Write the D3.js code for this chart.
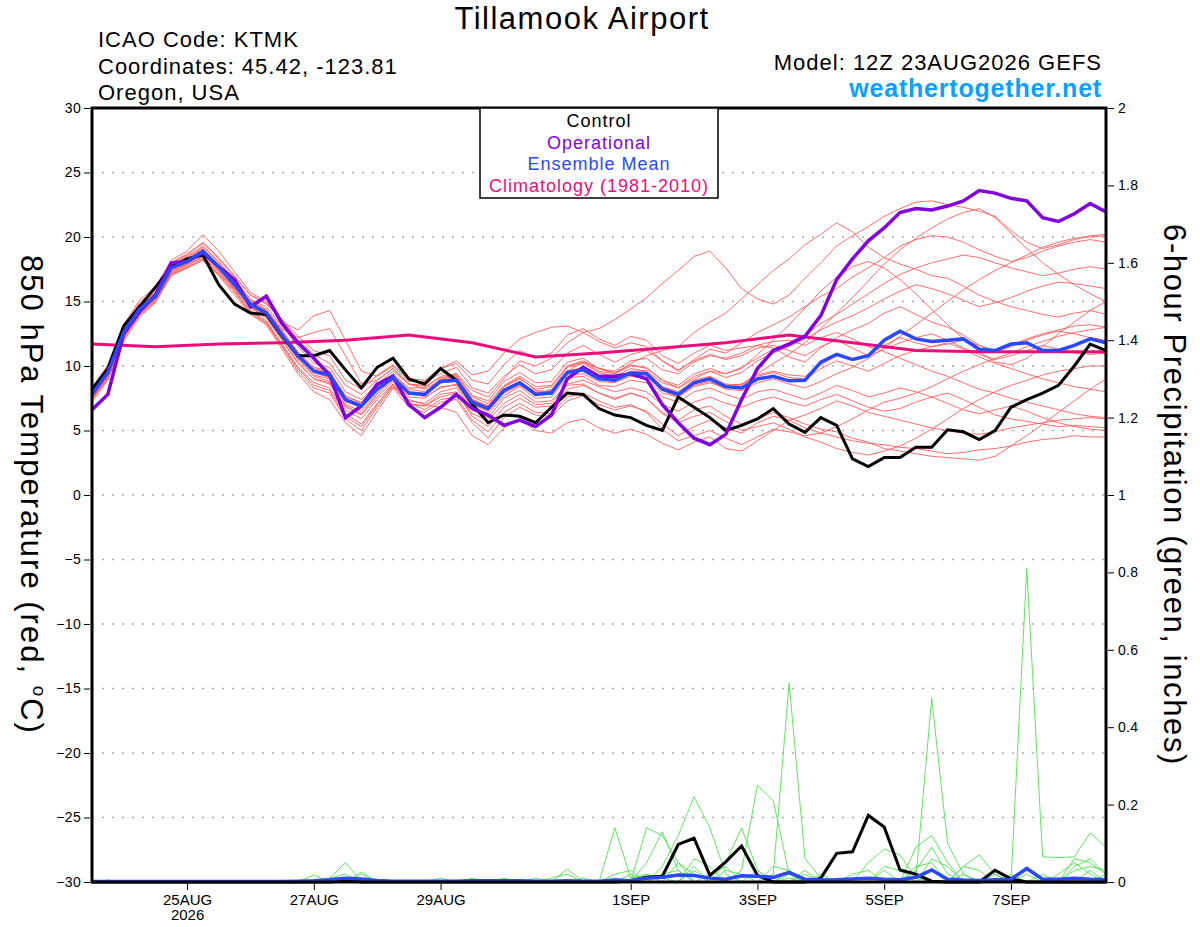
<!DOCTYPE html>
<html>
<head>
<meta charset="utf-8">
<script src="https://d3js.org/d3.v7.min.js"></script>
<style>
body{margin:0;background:#fff;}
text{font-family:"Liberation Sans", Arial, sans-serif;}
</style>
</head>
<body>
<script>
// x axis labels
var tickDates = ["2026-08-25","2026-08-27","2026-08-29","2026-09-01","2026-09-03","2026-09-05","2026-09-07"];
var tickLabels = ["25AUG","27AUG","29AUG","1SEP","3SEP","5SEP","7SEP"];
var tempTicks = [-30,-25,-20,-15,-10,-5,0,5,10,15,20,25,30];
var precipTicks = [0,0.2,0.4,0.6,0.8,1,1.2,1.4,1.6,1.8,2];

// 850 hPa temperature, 6-hourly from 12Z 23AUG (65 steps)
var control = [8.2,9.8,13.1,14.6,16.1,17.7,18.3,18.6,16.3,14.8,14.1,14.0,12.3,10.8,10.8,11.2,9.7,8.3,9.9,10.6,9.0,8.6,
  9.8,8.9,7.05,5.6,6.2,6.1,5.6,6.8,7.9,7.8,6.7,6.2,6.0,5.4,5.0,7.6,6.8,6.0,5.0,5.4,5.9,6.7,
  5.5,4.85,6.0,5.4,2.8,2.2,2.9,2.9,3.7,3.7,5.05,4.9,4.3,5.0,6.8,7.4,7.9,8.5,10.0,11.7,11.2];
var operational = [6.6,7.8,12.5,14.2,15.5,18.0,18.1,18.8,17.7,16.7,14.6,15.4,13.3,11.8,10.6,9.3,6.0,6.9,8.6,9.2,7.0,6.0,
  6.8,7.8,6.7,6.2,5.4,5.8,5.3,6.2,9.0,9.9,9.2,9.2,9.4,9.0,7.0,5.6,4.4,3.9,4.7,7.4,9.8,11.2,
  11.7,12.3,13.9,16.7,18.3,19.7,20.7,21.9,22.2,22.1,22.4,22.8,23.6,23.4,23.0,22.8,21.5,21.2,21.8,22.6,21.95];
var ensMean = [7.8,9.5,12.6,14.4,15.4,17.6,18.1,18.9,17.7,16.3,14.8,14.1,12.4,10.8,9.6,9.3,7.4,6.9,8.2,9.1,7.9,7.8,
  8.8,8.9,7.2,6.7,8.1,8.7,7.8,7.9,9.5,9.7,9.0,8.9,9.45,9.4,8.2,7.8,8.7,9.0,8.4,8.3,9.0,9.2,
  8.85,8.9,10.3,10.9,10.5,10.8,12.0,12.7,12.1,11.9,12.0,12.1,11.3,11.2,11.7,11.8,11.2,11.2,11.6,12.1,11.8];
// climatology, daily at 12Z
var climatology = [11.7,11.5,11.7,11.8,12.0,12.4,11.8,10.7,11.0,11.4,11.8,12.4,11.8,11.2,11.1,11.1,11.1];

var member01 = [8.0,9.8,12.9,14.7,15.9,18.0,18.7,19.5,18.3,16.9,15.5,14.9,13.6,12.0,10.9,10.2,8.5,7.8,8.9,9.8,8.6,8.2,8.9,9.4,8.1,7.6,9.0,10.4,10.0,10.6,11.8,12.6,12.9,13.6,14.4,15.3,16.4,17.4,18.5,18.9,17.6,16.0,15.2,14.8,15.5,16.8,18.0,19.3,20.1,20.8,21.6,22.2,22.7,22.8,22.5,22.3,22.0,21.6,20.5,19.6,19.1,19.4,19.8,20.1,20.2];
var member02 = [7.6,9.3,12.4,14.2,15.2,17.3,17.9,18.6,17.5,16.0,14.5,13.8,12.0,10.2,9.0,8.6,6.9,6.3,7.8,9.2,8.0,7.6,8.3,8.6,7.0,6.5,7.9,8.5,7.8,8.2,9.6,10.3,9.8,9.4,10.2,10.8,11.2,11.5,12.6,13.4,14.1,15.2,16.3,17.4,18.3,19.4,20.2,21.1,20.4,19.2,18.4,17.9,17.5,17.0,16.8,16.2,15.5,15.0,14.6,14.3,14.0,13.8,14.1,14.3,14.0];
var member03 = [7.4,9.1,12.2,14.0,15.0,17.1,17.6,18.2,17.0,15.5,14.0,13.2,11.3,9.4,8.0,7.4,5.6,4.6,6.5,8.3,6.8,6.4,7.2,7.4,5.6,4.4,6.0,6.8,6.2,6.1,7.3,7.7,7.0,6.6,6.9,6.5,5.5,4.6,5.3,5.8,5.2,4.8,5.6,6.1,5.8,5.2,4.8,4.5,4.2,4.0,3.9,3.7,3.6,3.4,3.2,3.3,3.5,3.6,3.8,4.1,4.3,4.4,4.6,4.5,4.5];
var member04 = [8.3,10.1,13.2,15.1,16.1,18.2,18.9,20.2,18.9,17.3,15.7,15.0,13.4,12.8,13.9,14.3,12.0,9.6,9.2,10.0,8.8,8.8,9.4,9.9,8.3,7.9,9.2,10.1,9.4,9.7,11.0,11.6,10.9,10.3,10.9,11.2,10.4,9.6,10.5,11.3,11.0,11.8,12.6,13.2,13.8,14.6,15.4,16.0,16.9,17.6,18.4,19.3,19.8,20.1,20.0,19.6,19.0,18.5,18.1,18.4,18.9,19.3,19.6,19.8,19.6];
var member05 = [7.9,9.6,12.7,14.5,15.6,17.7,18.3,19.1,17.8,16.4,14.9,14.2,12.6,10.6,9.2,8.8,6.6,5.9,7.4,8.6,7.0,6.9,7.6,7.9,6.3,5.8,7.1,7.8,7.0,7.1,8.5,8.6,7.9,7.4,7.9,7.5,6.4,5.8,6.6,6.9,6.1,5.5,5.9,6.4,6.0,5.5,5.1,4.9,4.4,4.1,3.6,3.4,3.2,3.0,2.9,2.8,2.7,3.0,3.8,4.6,5.5,6.4,7.3,8.2,9.0];
var member06 = [7.7,9.4,12.5,14.3,15.3,17.5,18.0,18.8,17.8,16.5,15.1,14.6,13.1,11.5,10.2,9.9,8.0,7.4,8.6,9.6,8.6,8.5,9.8,10.2,8.9,8.6,10.1,11.2,10.6,11.0,12.4,12.9,12.1,11.6,12.3,12.0,10.8,10.2,11.0,11.6,11.2,11.4,11.6,11.4,10.7,10.3,11.4,12.2,12.8,13.3,14.1,14.6,14.0,13.4,13.0,12.4,11.6,11.1,11.5,12.0,12.4,12.7,12.5,12.2,12.0];
var member07 = [8.1,9.9,13.0,14.8,15.7,17.9,18.5,19.3,18.1,16.7,15.2,14.3,12.8,11.0,9.8,9.5,7.7,7.1,8.4,9.3,8.2,8.0,9.0,9.2,7.4,6.9,8.4,9.1,8.1,8.0,9.3,9.4,8.8,8.7,9.2,9.0,7.9,7.6,8.4,8.7,8.3,8.6,9.4,10.2,10.9,11.8,12.9,14.1,15.3,16.6,17.9,19.0,19.9,20.7,21.4,21.9,22.2,21.5,20.3,19.1,18.0,17.1,16.3,15.6,15.0];
var member08 = [7.5,9.2,12.3,14.1,15.1,17.2,17.8,18.5,17.4,16.0,14.6,13.7,12.0,10.3,9.0,8.7,6.8,6.2,7.6,8.8,7.3,7.1,8.0,8.3,6.6,6.0,7.5,8.1,7.2,7.3,8.6,8.9,8.4,8.0,8.3,8.0,7.0,6.5,7.2,7.6,7.1,6.8,7.3,7.6,7.2,6.9,7.4,7.8,7.3,6.8,6.5,6.7,7.2,7.6,7.9,7.4,6.8,6.2,5.9,5.7,5.5,5.3,5.4,5.3,5.2];
var member09 = [7.8,9.5,12.6,14.4,15.5,17.6,18.2,18.9,17.6,16.2,14.7,14.0,12.3,10.7,9.5,9.1,7.2,6.8,8.3,9.0,7.8,7.7,8.7,8.8,7.1,6.6,8.0,8.7,7.9,8.1,9.9,10.2,9.5,9.2,9.8,9.6,8.7,8.3,9.2,9.6,9.1,9.5,10.4,11.0,11.5,12.1,12.8,13.4,13.9,14.5,15.2,15.8,16.3,16.0,15.6,15.1,14.6,14.9,15.3,15.8,16.2,16.5,16.4,16.2,16.0];
var member10 = [7.2,8.9,11.9,13.8,14.9,17.0,17.6,18.2,17.1,15.7,14.1,13.3,11.5,9.6,8.3,7.9,5.9,5.0,6.8,8.4,7.2,6.6,7.4,7.6,5.8,4.9,6.4,7.1,6.4,6.3,7.6,7.9,7.3,6.8,7.0,6.4,5.1,4.2,4.6,5.0,4.4,3.9,4.5,5.1,4.9,4.6,4.8,5.3,5.9,6.6,7.2,7.5,7.9,8.4,9.0,9.6,10.1,10.6,11.0,11.5,11.9,12.3,12.6,12.8,13.0];
var member11 = [8.0,9.7,12.8,14.6,15.7,17.8,18.4,19.2,18.0,16.6,15.0,14.4,12.9,12.2,12.6,12.9,10.8,8.6,8.9,9.8,8.6,8.4,9.1,9.3,7.6,7.1,8.5,9.2,8.4,8.5,10.0,10.3,9.6,9.4,10.0,9.9,8.9,8.3,9.0,9.6,9.4,9.9,10.6,11.3,11.8,12.4,13.3,14.0,14.8,15.6,16.4,17.1,17.6,18.0,18.3,18.6,18.4,18.0,17.6,17.3,17.0,17.2,17.5,17.7,17.5];
var member12 = [7.6,9.3,12.4,14.2,15.3,17.4,18.0,18.7,17.5,16.1,14.6,13.9,12.2,10.5,9.3,9.0,7.0,6.5,7.9,8.9,7.6,7.5,8.4,8.5,6.8,6.3,7.7,8.4,7.5,7.6,9.1,9.2,8.5,8.4,8.9,8.7,7.6,7.2,8.0,8.3,7.8,7.4,8.0,8.2,7.8,7.4,7.9,8.5,8.1,7.6,7.9,8.3,8.0,7.6,7.1,6.6,6.3,6.6,6.9,6.5,6.0,5.6,5.3,5.1,5.0];
var member13 = [7.9,9.6,12.6,14.4,15.4,17.5,18.1,18.8,17.6,16.3,14.9,14.3,12.7,11.1,9.9,9.6,7.6,7.2,8.5,9.4,8.3,8.3,9.2,9.4,7.7,7.3,8.8,9.5,8.7,8.8,10.3,10.6,9.8,9.5,10.1,9.8,8.9,8.5,9.4,9.8,9.4,9.8,10.9,12.0,13.2,14.5,15.8,16.9,17.7,18.1,17.6,16.7,15.6,14.4,13.2,12.1,11.1,10.3,10.1,10.6,11.5,12.5,13.4,14.3,15.0];
var member14 = [7.5,9.2,12.2,14.1,15.2,17.3,17.9,18.4,17.3,15.9,14.3,13.5,11.7,9.9,8.7,8.3,6.3,5.5,7.1,8.5,7.1,6.9,7.8,8.0,6.1,5.3,6.8,7.5,6.8,6.9,8.2,8.5,7.9,7.5,7.9,7.5,6.3,5.6,6.1,6.4,5.7,5.0,5.3,5.6,5.1,4.5,4.1,3.6,3.3,3.1,3.4,3.8,4.4,5.1,5.9,6.7,7.4,8.0,8.5,8.9,9.3,9.6,9.8,10.0,10.0];
var member15 = [7.8,9.5,12.5,14.4,15.4,17.6,18.1,18.9,17.8,16.4,14.8,14.2,12.5,10.9,9.7,9.3,7.3,6.9,8.3,9.2,8.0,7.9,8.8,9.0,7.3,6.7,8.2,8.8,8.0,8.0,9.6,9.8,9.2,9.0,9.6,9.6,8.4,8.0,8.9,9.2,8.6,8.5,9.2,9.5,9.1,9.0,9.8,10.4,10.0,9.6,10.2,10.8,11.2,11.5,11.8,11.3,10.7,10.2,9.8,9.4,9.0,8.7,8.4,8.2,8.0];
var member16 = [8.1,9.8,12.9,14.6,15.6,17.8,18.3,19.0,17.8,16.4,14.9,14.1,12.4,10.8,9.5,9.1,7.3,6.8,8.1,9.0,7.9,7.8,8.7,8.9,7.2,6.7,8.1,8.7,7.9,8.0,9.5,9.7,9.0,8.9,9.4,9.2,8.1,7.6,8.5,8.8,8.2,8.1,8.7,9.0,8.6,8.3,8.8,9.4,9.9,10.6,11.4,12.3,13.2,14.1,15.0,15.9,16.7,17.4,18.0,18.6,19.2,19.6,19.9,20.0,20.1];
var member17 = [7.7,9.4,12.5,14.3,15.3,17.5,18.0,18.7,17.6,16.2,14.8,14.0,12.4,10.8,9.6,9.3,7.4,6.9,8.3,9.1,7.9,7.8,8.9,9.1,7.4,6.9,8.4,9.0,8.2,8.4,10.0,10.4,9.8,9.6,10.4,10.6,9.7,9.4,10.3,10.8,10.6,11.0,11.6,11.9,12.0,11.6,12.2,12.6,12.1,11.5,11.1,10.6,10.1,9.6,9.2,8.7,8.2,7.9,7.5,7.2,6.9,6.6,6.3,6.1,6.0];
var member18 = [8.2,10.0,13.1,14.9,15.9,18.0,18.6,19.6,18.4,17.0,15.5,14.8,13.6,12.3,11.2,10.8,8.9,8.2,9.3,10.1,9.0,8.9,9.8,10.4,9.3,9.6,11.0,12.1,12.6,13.0,13.1,12.6,11.9,11.4,11.8,11.5,10.4,9.7,10.4,10.9,10.5,10.8,11.4,11.6,11.2,10.8,11.5,12.0,11.4,10.8,11.3,11.8,12.2,12.5,12.0,11.4,10.9,10.5,10.8,11.2,11.6,11.3,11.0,10.9,11.0];
var member19 = [7.4,9.0,12.1,13.9,15.0,17.1,17.7,18.3,17.2,15.8,14.2,13.4,11.6,9.8,8.5,8.1,6.1,5.3,7.0,8.6,7.4,7.0,6.8,6.4,4.6,3.9,5.2,5.9,5.0,4.8,5.6,5.9,5.2,4.8,5.1,4.7,4.0,3.5,4.1,4.5,3.6,3.4,4.2,5.0,5.8,6.2,6.7,7.3,6.9,6.4,6.1,5.8,5.5,5.2,5.0,4.8,4.7,4.9,5.2,5.4,5.6,5.8,5.9,6.0,5.9];
var member20 = [7.9,9.6,12.7,14.5,15.5,17.7,18.2,19.0,17.7,16.4,14.8,14.1,12.5,10.9,9.7,9.4,7.4,6.9,8.2,9.1,7.9,7.8,8.8,9.0,7.2,6.8,8.2,8.8,7.9,8.0,9.6,9.9,9.2,9.0,9.5,9.5,8.4,7.9,8.8,9.1,8.5,8.6,9.3,9.6,9.3,9.2,10.1,10.8,10.5,10.9,11.6,12.2,11.8,11.5,11.7,12.0,11.6,11.2,11.6,12.1,12.5,12.8,13.1,13.2,13.0];
var members = [member01,member02,member03,member04,member05,member06,member07,member08,member09,member10,
  member11,member12,member13,member14,member15,member16,member17,member18,member19,member20];

// 6-hour precipitation (inches)
var precipControl = [0,0,0,0,0,0,0,0,0,0,0,0,0, 0,0,0,0.005,0,0,0,0,0,0,0,0,0, 0,0,0,0,0,0,0,0,0.003,0.012,0.015,0.097,0.113,
  0.017,0.052,0.093,0.017,0,0,0,0.01,0.074,0.078,0.172,0.142,0.031, 0.02,0.002,0,0,0,0.03,0.008,0,0,0,0,0,0];
var precipMean = [0.001,0.001,0.001,0.001,0.001,0.001,0.001,0.001,0.001,0.001,0.001,0.001,0.001, 0.002,0.003,0.006,0.01,0.008,0.004,0.002,0.002,0.002,0.002,0.002,0.003,0.003,
  0.003,0.003,0.002,0.002,0.003,0.002,0.002,0.005,0.003,0.01,0.012,0.018,0.017,
  0.01,0.007,0.016,0.015,0.012,0.025,0.007,0.005,0.006,0.008,0.01,0.007,0.006,
  0.012,0.031,0.007,0.005,0.004,0.006,0.007,0.035,0.007,0.007,0.01,0.007,0.006];
var pm01 = [0,0.005,0,0,0,0,0,0,0,0,0,0,0, 0,0,0,0,0,0,0,0,0,0,0,0,0, 0,0,0,0,0,0,0,0.01,0,0.02,0.01,0,0, 0,0,0,0,0,0.01,0,0,0,0,0,0,0, 0,0,0,0,0,0,0,0.81,0.065,0.063,0.065,0.127,0.09];
var pm02 = [0,0,0,0,0,0,0,0,0,0,0,0,0, 0,0,0,0,0,0,0,0,0,0,0,0,0, 0,0,0,0,0,0,0,0,0,0,0,0,0, 0,0,0,0,0.02,0.515,0.06,0.01,0,0,0,0,0, 0,0,0,0,0,0,0,0,0,0,0,0,0];
var pm03 = [0,0,0,0,0,0,0,0,0,0,0,0,0, 0,0,0,0,0,0,0,0,0,0,0,0,0, 0,0,0,0,0,0,0,0,0,0,0,0,0, 0,0,0,0,0,0,0,0,0,0,0,0,0, 0.01,0.475,0.1,0.02,0,0,0,0,0,0,0,0,0];
var pm04 = [0,0,0,0,0,0,0,0,0,0,0,0,0, 0,0,0,0,0,0,0,0,0,0,0,0,0, 0,0,0,0,0,0,0,0,0,0,0,0,0, 0,0,0.03,0.25,0.21,0.02,0,0,0,0,0.05,0.085,0.07, 0.01,0,0,0,0,0,0,0,0,0,0,0,0];
var pm05 = [0,0,0,0,0,0,0,0,0,0,0,0,0, 0,0,0.01,0.05,0,0,0,0,0,0,0,0,0, 0,0,0,0,0,0,0,0,0,0,0.04,0.12,0.22, 0.14,0.02,0,0,0,0,0,0,0,0,0,0,0, 0,0,0,0,0,0,0,0,0,0,0,0,0];
var pm06 = [0,0,0,0,0,0,0,0,0,0,0,0,0, 0,0,0,0,0,0,0,0,0,0,0,0,0, 0,0,0,0,0.034,0,0,0.14,0.01,0.02,0,0,0, 0,0,0,0,0,0,0,0,0,0,0,0,0, 0.09,0.12,0.05,0,0,0,0,0,0,0,0,0,0];
var pm07 = [0,0,0,0,0,0,0,0,0,0,0,0,0, 0,0,0,0,0,0,0,0,0,0,0,0,0, 0,0,0,0,0,0,0,0,0,0.14,0.12,0.05,0.02, 0,0,0,0,0,0,0,0,0,0,0,0,0, 0,0,0,0.04,0.07,0.02,0,0,0,0,0,0,0];
var pm08 = [0,0,0,0,0,0,0,0,0,0,0,0,0, 0,0,0,0,0,0,0,0,0,0,0,0,0, 0,0,0,0,0,0,0,0,0,0,0,0,0, 0,0.05,0.14,0.03,0,0,0,0,0,0,0,0,0, 0,0,0,0,0,0,0,0,0,0,0.06,0.05,0.02];
var pm09 = [0,0,0,0,0,0,0,0,0,0,0,0,0, 0,0,0,0,0,0,0,0,0,0,0,0,0, 0,0,0,0,0,0,0,0,0,0.05,0.13,0.03,0, 0,0,0,0,0,0,0,0,0,0,0,0,0, 0,0,0,0,0,0,0,0.02,0,0,0.03,0.04,0.03];
var pm10 = [0,0,0,0,0,0,0,0,0,0,0,0,0, 0,0.018,0,0,0.026,0,0,0,0,0.01,0,0,0, 0,0,0,0,0,0,0,0,0,0,0,0,0, 0,0,0,0,0,0,0.03,0,0,0,0,0.04,0.03, 0,0,0,0,0,0,0,0,0,0,0,0,0];
var pm11 = [0,0,0,0,0,0,0,0,0,0,0,0,0, 0,0,0,0,0,0,0,0,0,0,0,0.01,0, 0,0,0.01,0,0,0,0,0,0,0,0,0,0.04, 0,0,0,0.03,0,0,0,0,0,0,0,0,0, 0,0.06,0.04,0,0,0,0,0,0,0,0,0,0];
var pm12 = [0,0,0,0,0,0,0,0,0,0,0,0,0, 0,0,0,0,0.02,0,0,0,0,0,0,0,0, 0,0,0,0,0,0,0,0.02,0.03,0,0,0,0, 0,0,0,0,0,0.03,0,0,0,0,0,0,0, 0,0,0,0.04,0.03,0,0,0,0,0,0.04,0.06,0.02];
var pm13 = [0,0,0,0,0,0,0,0,0,0,0,0,0, 0,0,0,0,0,0,0,0,0,0,0,0,0, 0,0,0,0.01,0.02,0,0,0,0,0,0,0.05,0, 0,0,0,0,0,0,0,0.02,0,0,0,0,0, 0.04,0.05,0,0,0,0,0,0,0,0.02,0.05,0.02,0];
var pm14 = [0,0,0,0,0,0,0,0,0,0,0,0,0, 0,0,0,0,0,0,0,0,0,0,0,0,0, 0,0,0,0,0,0,0,0,0,0,0,0,0.03, 0,0.03,0.02,0,0,0,0,0,0,0.02,0.03,0,0, 0,0,0,0,0,0.02,0,0,0,0,0,0,0];
var pm15 = [0,0,0,0,0,0,0,0,0,0,0,0,0, 0,0,0.01,0.02,0,0,0,0,0,0,0,0,0, 0,0,0,0,0,0,0,0,0,0,0.02,0.03,0, 0,0,0,0,0,0,0,0,0,0,0,0.03,0, 0,0,0,0,0,0,0,0,0,0,0,0.03,0];
var pm16 = [0,0,0,0,0,0,0,0,0,0,0,0,0, 0,0,0,0,0,0,0,0,0,0,0,0,0, 0,0,0,0,0,0,0,0,0,0,0,0,0, 0,0,0,0,0.04,0.03,0,0,0,0,0,0,0, 0.03,0.09,0.02,0,0,0,0,0,0,0,0,0,0];
var pm17 = [0,0,0,0,0,0,0,0,0,0,0,0,0, 0,0,0,0,0,0,0,0,0,0,0,0,0, 0,0,0,0,0,0,0,0,0,0,0,0,0, 0.02,0.04,0,0,0,0,0.02,0,0,0,0,0,0, 0,0,0,0,0,0,0.02,0,0.02,0,0,0,0];
var pm18 = [0,0,0,0,0,0,0,0,0,0,0,0,0, 0,0,0,0,0,0,0,0,0,0,0,0,0, 0,0,0,0,0,0,0,0,0.02,0,0,0,0, 0,0,0,0,0,0,0,0,0.01,0,0,0,0, 0,0,0,0.02,0,0,0,0,0,0,0,0,0.02];
var pm19 = [0,0,0,0,0,0,0,0,0,0,0,0,0, 0,0,0,0,0,0,0,0,0,0,0,0,0, 0.01,0,0,0,0,0.01,0,0,0,0,0,0,0, 0,0,0,0,0,0.02,0,0,0,0,0,0,0, 0,0,0,0,0,0,0,0,0,0,0,0,0];
var pm20 = [0,0,0,0,0,0,0,0,0,0,0,0,0, 0,0,0,0,0,0,0,0,0,0,0,0,0, 0,0,0,0,0,0,0,0,0,0,0,0,0.06, 0.04,0,0,0,0,0,0,0,0,0,0,0,0, 0,0.03,0,0,0,0,0,0,0,0,0,0,0];
var precipMembers = [pm01,pm02,pm03,pm04,pm05,pm06,pm07,pm08,pm09,pm10,pm11,pm12,pm13,pm14,pm15,pm16,pm17,pm18,pm19,pm20];

var width = 1200, height = 927;
var margin = {top: 108, right: 94, bottom: 45, left: 92};

var svg = d3.select("body").append("svg")
    .attr("width", width)
    .attr("height", height)
    .style("background", "#fff");

var startTime = Date.UTC(2026, 7, 23, 12);
var times = d3.range(control.length).map(function(i){ return new Date(startTime + i*6*3600e3); });
var climTimes = d3.range(climatology.length).map(function(k){ return new Date(startTime + k*24*3600e3); });

var x = d3.scaleUtc()
    .domain([times[0], times[times.length-1]])
    .range([margin.left, width - margin.right]);
var yT = d3.scaleLinear().domain([-30, 30]).range([height - margin.bottom, margin.top]);
var yP = d3.scaleLinear().domain([0, 2]).range([height - margin.bottom, margin.top]);

// dotted grid
svg.append("g").selectAll("line")
    .data(tempTicks.filter(function(d){ return d > -30 && d < 30; }))
  .enter().append("line")
    .attr("x1", margin.left).attr("x2", width - margin.right)
    .attr("y1", function(d){ return yT(d); }).attr("y2", function(d){ return yT(d); })
    .attr("stroke", "#aaa").attr("stroke-width", 1.5)
    .attr("stroke-dasharray", "2,8");

var lineT = d3.line().x(function(d,i){ return x(times[i]); }).y(function(d){ return yT(d); });
var lineP = d3.line().x(function(d,i){ return x(times[i]); }).y(function(d){ return yP(d); });

// ensemble members
svg.append("g").selectAll("path").data(members).enter().append("path")
    .attr("d", lineT).attr("fill", "none")
    .attr("stroke", "#ff5a5a").attr("stroke-width", 0.9);

svg.append("g").selectAll("path").data(precipMembers).enter().append("path")
    .attr("d", lineP).attr("fill", "none")
    .attr("stroke", "#4fe04f").attr("stroke-width", 0.9);

svg.append("path").datum(precipControl).attr("d", lineP)
    .attr("fill", "none").attr("stroke", "#000").attr("stroke-width", 3);
svg.append("path").datum(precipMean).attr("d", lineP)
    .attr("fill", "none").attr("stroke", "#2a48ff").attr("stroke-width", 3.5);

// climatology
svg.append("path").datum(climatology)
    .attr("d", d3.line().x(function(d,k){ return x(climTimes[k]); }).y(function(d){ return yT(d); }))
    .attr("fill", "none").attr("stroke", "#ef0a7c").attr("stroke-width", 3);

svg.append("path").datum(control).attr("d", lineT)
    .attr("fill", "none").attr("stroke", "#000").attr("stroke-width", 3);
svg.append("path").datum(operational).attr("d", lineT)
    .attr("fill", "none").attr("stroke", "#8000e0").attr("stroke-width", 3.5);
svg.append("path").datum(ensMean).attr("d", lineT)
    .attr("fill", "none").attr("stroke", "#2a48ff").attr("stroke-width", 3.5);

// axes
var gl = svg.append("g").attr("transform", "translate(" + (margin.left - 2) + ",0)")
    .call(d3.axisLeft(yT).tickValues(tempTicks).tickSize(6).tickPadding(3).tickFormat(d3.format("d")));
var gr = svg.append("g").attr("transform", "translate(" + (width - margin.right + 2) + ",0)")
    .call(d3.axisRight(yP).tickValues(precipTicks).tickSize(6).tickPadding(4).tickFormat(String));
var gb = svg.append("g").attr("transform", "translate(0," + (height - margin.bottom + 2) + ")")
    .call(d3.axisBottom(x).tickValues(tickDates.map(function(s){ return new Date(s + "T00:00:00Z"); }))
      .tickSize(6).tickPadding(4).tickFormat(function(d,i){ return tickLabels[i]; }));
[gl, gr, gb].forEach(function(g){
  g.select(".domain").remove();
  g.selectAll("text").attr("font-family", "Liberation Sans, Arial, sans-serif").attr("fill", "#000");
});
gl.selectAll("text").attr("font-size", 14).attr("letter-spacing", 0.3);
gr.selectAll("text").attr("font-size", 14).attr("letter-spacing", 0.3);
gb.selectAll("text").attr("font-size", 15);
gb.selectAll(".tick").filter(function(d,i){ return i === 0; })
  .append("text").attr("y", 36).attr("fill", "#000").attr("text-anchor", "middle")
  .attr("font-size", 15).text("2026");

// frame
svg.append("rect")
    .attr("x", margin.left).attr("y", margin.top)
    .attr("width", width - margin.left - margin.right)
    .attr("height", height - margin.top - margin.bottom)
    .attr("fill", "none").attr("stroke", "#000").attr("stroke-width", 3);

// legend
var legendItems = [
  {label: "Control", color: "#000"},
  {label: "Operational", color: "#8000e0"},
  {label: "Ensemble Mean", color: "#2a48ff"},
  {label: "Climatology (1981-2010)", color: "#ef0a7c"}
];
var lg = svg.append("g");
lg.append("rect").attr("x", 480).attr("y", margin.top).attr("width", 238).attr("height", 90)
    .attr("fill", "#fff").attr("stroke", "#000").attr("stroke-width", 1.5);
lg.selectAll("text").data(legendItems).enter().append("text")
    .attr("x", 599).attr("y", function(d,i){ return 127 + i*21.5; })
    .attr("text-anchor", "middle").attr("font-size", 18).attr("letter-spacing", 1)
    .attr("fill", function(d){ return d.color; })
    .text(function(d){ return d.label; });

// titles
svg.append("text").attr("x", 582).attr("y", 29).attr("text-anchor", "middle")
    .attr("font-size", 31).attr("letter-spacing", 1.5).text("Tillamook Airport");
var info = ["ICAO Code: KTMK", "Coordinates: 45.42, -123.81", "Oregon, USA"];
svg.append("g").selectAll("text").data(info).enter().append("text")
    .attr("x", 98).attr("y", function(d,i){ return 47 + i*26.5; })
    .attr("font-size", 22).attr("letter-spacing", 1).text(function(d){ return d; });
svg.append("text").attr("x", 1102).attr("y", 70).attr("text-anchor", "end")
    .attr("font-size", 22).attr("letter-spacing", 1).text("Model: 12Z 23AUG2026 GEFS");
svg.append("text").attr("x", 1102).attr("y", 97).attr("text-anchor", "end")
    .attr("font-size", 25).attr("font-weight", "bold").attr("letter-spacing", 0.8).attr("fill", "#0aa0ff")
    .text("weathertogether.net");

var ylab = svg.append("text").attr("transform", "translate(21,495) rotate(90)")
    .attr("text-anchor", "middle").attr("font-size", 31).attr("letter-spacing", 2);
ylab.append("tspan").text("850 hPa Temperature (red, ");
ylab.append("tspan").attr("font-size", 19).attr("dy", -12).text("o");
ylab.append("tspan").attr("dy", 12).text("C)");
svg.append("text").attr("transform", "translate(1164,495) rotate(90)")
    .attr("text-anchor", "middle").attr("font-size", 31).attr("letter-spacing", 1.6)
    .text("6-hour Precipitation (green, inches)");
</script>
</body>
</html>
